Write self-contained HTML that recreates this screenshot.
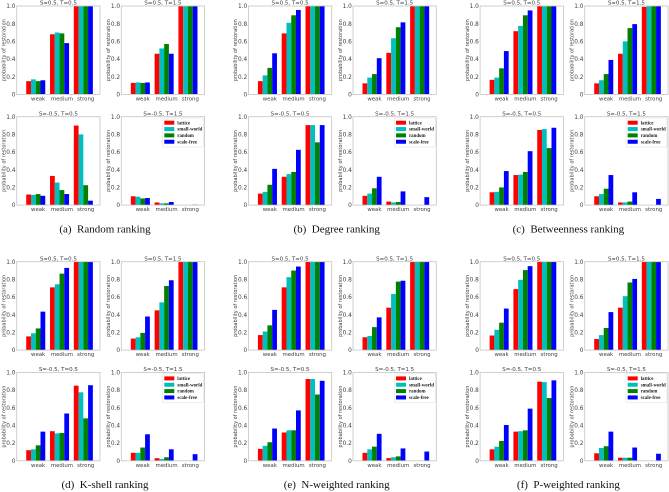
<!DOCTYPE html>
<html lang="en">
<head>
<meta charset="utf-8">
<title>Probability of restoration by ranking</title>
<style>
html,body{margin:0;padding:0;background:#fff;width:669px;height:492px;overflow:hidden}
#figure{position:absolute;left:0;top:0;width:669px;height:492px}
.panel{filter:blur(0.3px)}
text{font-family:"DejaVu Sans","Liberation Sans",sans-serif;fill:#3c3c3c}
.caption{font-family:"Liberation Serif",serif;font-size:11px;fill:#111;text-anchor:middle;white-space:pre}
.legend-text{font-family:"Liberation Serif",serif;font-size:4.9px;font-weight:bold;fill:#222}
</style>
</head>
<body>
<svg id="figure" xmlns="http://www.w3.org/2000/svg" width="669" height="492" viewBox="0 0 669 492"></svg>
<script>
var categories = ['weak', 'medium', 'strong'];
var seriesNames = ['lattice', 'small-world', 'random', 'scale-free'];
var seriesColors = ['#ff0000', '#00bfbf', '#008000', '#0000ff'];
var yTickLabels = ['0', '0.2', '0.4', '0.6', '0.8', '1.0'];
var panelTitles = ['S=0.5, T=0.5', 'S=0.5, T=1.5', 'S=-0.5, T=0.5', 'S=-0.5, T=1.5'];
var captions = ['(a)  Random ranking', '(b)  Degree ranking', '(c)  Betweenness ranking', '(d)  K-shell ranking', '(e)  N-weighted ranking', '(f)  P-weighted ranking'];

var randomA = [[.15,.17,.15,.16],[.68,.70,.69,.58],[1,1,1,1]];
var randomB = [[.13,.135,.13,.135],[.46,.52,.57,.46],[1,1,1,1]];
var randomC = [[.12,.115,.125,.105],[.33,.255,.17,.125],[.90,.80,.225,.05]];
var randomD = [[.10,.095,.075,.08],[.03,.02,.02,.035],[0,0,0,.005]];

var degreeA = [[.15,.215,.30,.465],[.69,.81,.895,.955],[1,1,1,1]];
var degreeB = [[.125,.19,.23,.41],[.47,.635,.76,.815],[1,1,1,1]];
var degreeC = [[.13,.15,.23,.41],[.32,.35,.375,.625],[.905,.905,.71,.905]];
var degreeD = [[.105,.13,.19,.32],[.04,.03,.035,.155],[0,0,0,.09]];

var betweenA = [[.165,.19,.295,.49],[.715,.775,.895,.95],[1,1,1,1]];
var betweenB = [[.125,.16,.23,.39],[.46,.60,.75,.795],[.99,1,1,1]];
var betweenC = [[.145,.15,.20,.385],[.34,.345,.375,.61],[.85,.86,.645,.875]];
var betweenD = [[.10,.125,.185,.34],[.03,.03,.04,.145],[0,0,0,.07]];

var kshellA = [[.155,.19,.245,.435],[.71,.745,.865,.93],[1,1,1,1]];
var kshellB = [[.13,.145,.195,.38],[.45,.54,.725,.79],[1,1,1,1]];
var kshellC = [[.12,.13,.175,.33],[.335,.31,.315,.535],[.85,.775,.48,.855]];
var kshellD = [[.09,.09,.15,.30],[.03,.02,.04,.13],[0,0,0,.075]];

var nweightA = [[.17,.21,.28,.455],[.71,.825,.90,.945],[1,1,1,1]];
var nweightB = [[.145,.16,.26,.37],[.48,.635,.775,.785],[1,1,1,1]];
var nweightC = [[.135,.17,.21,.365],[.32,.345,.345,.57],[.925,.925,.75,.905]];
var nweightD = [[.09,.13,.16,.305],[.03,.04,.05,.14],[0,0,0,.105]];

var pweightA = [[.165,.23,.31,.47],[.69,.795,.905,.95],[1,1,1,1]];
var pweightB = [[.125,.17,.25,.43],[.48,.61,.765,.805],[1,1,1,1]];
var pweightC = [[.13,.16,.225,.405],[.33,.335,.345,.59],[.895,.89,.71,.91]];
var pweightD = [[.085,.145,.165,.33],[.035,.035,.035,.15],[0,0,0,.08]];

var rankings = [
  [randomA, randomB, randomC, randomD],
  [degreeA, degreeB, degreeC, degreeD],
  [betweenA, betweenB, betweenC, betweenD],
  [kshellA, kshellB, kshellC, kshellD],
  [nweightA, nweightB, nweightC, nweightD],
  [pweightA, pweightB, pweightC, pweightD]
];

var svg = document.getElementById('figure');
var NS = 'http://www.w3.org/2000/svg';
var plotW = 83.3, plotH = 88.4;

function make(tag, attrs, parent, txt) {
  var el = document.createElementNS(NS, tag);
  for (var k in attrs) el.setAttribute(k, attrs[k]);
  if (txt !== undefined) el.textContent = txt;
  parent.appendChild(el);
  return el;
}
function rankingLeft(r) { return 16.7 + (r % 3) * 231.7; }
function rankingTop(r) { return r < 3 ? 6 : 261.7; }
function panelLeft(r, p) { return rankingLeft(r) + (p % 2) * 104.6; }
function panelTop(r, p) { return rankingTop(r) + (p > 1 ? 110.7 : 0); }
function xScale(left, v) { return left + v / 3.5 * plotW; }
function yScale(top, v) { return top + plotH - Math.min(v, 1) * plotH; }

function drawLegend(g, left, top) {
  var box = make('g', {}, g);
  
  
  var bx = left + plotW - 42;
  make('rect', {x: bx, y: top + 1.3, width: 41, height: 29, rx: 1, fill: '#fff', stroke: '#ddd', 'stroke-width': 0.5}, box);
  seriesNames.forEach(function (name, i) {
    var entry = make('g', {}, box);
    
    
    var cy = top + 6 + i * 6.35;
    make('rect', {x: bx + 1.7, y: cy - 2, width: 10, height: 4, fill: seriesColors[i]}, entry);
    make('text', {x: bx + 14.7, y: cy + 1.6, 'class': 'legend-text'}, entry, name);
  });
}

function drawPanel(r, p) {
  var left = panelLeft(r, p), top = panelTop(r, p), data = rankings[r][p];
  var g = make('g', {'class': 'panel'}, svg);
  
  

  categories.forEach(function (cat, c) {
    seriesNames.forEach(function (name, s) {
      var v = data[c][s];
      var x0 = xScale(left, c + 0.4 + s * 0.2), x1 = xScale(left, c + 0.4 + (s + 1) * 0.2);
      var y = yScale(top, v);
      var bar = make('rect', {x: x0, y: y, width: x1 - x0, height: top + plotH - y, fill: seriesColors[s]}, g);
      
      
    });
    var tick = make('text', {x: xScale(left, c + 0.9), y: top + plotH + 6.1, 'font-size': 5.4, 'text-anchor': 'middle'}, g, cat);
    
    
  });

  var frame = make('rect', {x: left, y: top, width: plotW, height: plotH, fill: 'none', stroke: '#c4c4c4', 'stroke-width': 0.8}, g);
  
  

  yTickLabels.forEach(function (label) {
    var t = make('text', {x: left - 1.2, y: yScale(top, parseFloat(label)) + 2.1, 'font-size': 5.8, 'text-anchor': 'end'}, g, label);
    
    
  });

  var cx = left - 12.7, cy = top + plotH / 2;
  var yt = make('text', {x: cx, y: cy, 'font-size': 5, 'text-anchor': 'middle', transform: 'rotate(-90 ' + cx + ' ' + cy + ')', 'dominant-baseline': 'middle'}, g, 'probability of restoration');
  
  

  var title = make('text', {x: left + plotW / 2, y: top - 1.3, 'font-size': 5.5, 'text-anchor': 'middle'}, g, panelTitles[p]);
  
  

  if (p === 3) drawLegend(g, left, top);
}

rankings.forEach(function (panels, r) {
  panels.forEach(function (_, p) { drawPanel(r, p); });
  var cap = make('text', {x: rankingLeft(r) + 88.3, y: rankingTop(r) + 226.5, 'class': 'caption'}, svg, captions[r]);
  
  
});
</script>
</body>
</html>
